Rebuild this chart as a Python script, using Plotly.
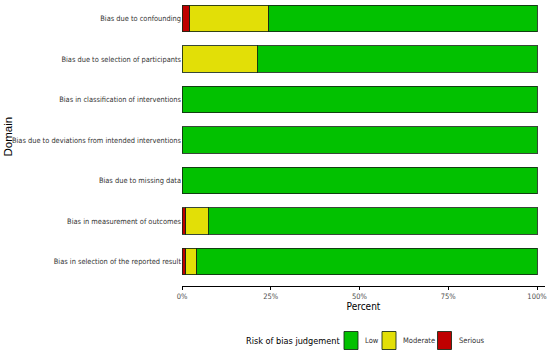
import plotly.graph_objects as go

domains = [
    "Bias due to confounding",
    "Bias due to selection of participants",
    "Bias in classification of interventions",
    "Bias due to deviations from intended interventions",
    "Bias due to missing data",
    "Bias in measurement of outcomes",
    "Bias in selection of the reported result",
]
serious = [2.2, 0, 0, 0, 0, 1.1, 1.1]
moderate = [22.3, 21.2, 0, 0, 0, 6.3, 3.1]
low = [75.5, 78.8, 100, 100, 100, 92.6, 95.8]

x_ticks = [0, 25, 50, 75, 100]
x_tick_labels = ["0%", "25%", "50%", "75%", "100%"]

legend_order = ["Low", "Moderate", "Serious"]
colors = {"Serious": "#BF0000", "Moderate": "#E2DF07", "Low": "#02C100"}

FONT = "DejaVu Sans Condensed"
OUTLINE = "rgba(20,40,20,0.85)"

W, H = 550, 353
ML, MR, MT, MB = 182, 5, 0, 67
PW, PH = W - ML - MR, H - MT - MB


def px(x):
    return (x - ML) / PW


def py(y):
    return 1 - (y - MT) / PH


fig = go.Figure()
for name, vals in [("Serious", serious), ("Moderate", moderate), ("Low", low)]:
    fig.add_trace(go.Bar(
        y=domains, x=vals, name=name, orientation="h", showlegend=False,
        marker=dict(color=colors[name], line=dict(color=OUTLINE, width=1)),
    ))

# legend (drawn as keys + labels, laid out like the ggplot legend)
key_x = {"Low": 344, "Moderate": 382, "Serious": 437.5}
text_x = {"Low": 362.5, "Moderate": 401, "Serious": 456.5}
shapes = []
annotations = [
    dict(text="Risk of bias judgement", x=px(244), y=py(340.5), xref="paper", yref="paper",
         xanchor="left", yanchor="middle", showarrow=False,
         font=dict(family=FONT, size=9.1, color="black")),
    dict(text="Domain", x=px(7.5), y=py(137), xref="paper", yref="paper",
         xanchor="center", yanchor="middle", textangle=-90, showarrow=False,
         font=dict(family="Liberation Sans", size=11.5, color="black")),
]
for name in legend_order:
    shapes.append(dict(type="rect", xref="paper", yref="paper",
                       x0=px(key_x[name]), x1=px(key_x[name] + 14),
                       y0=py(331.5), y1=py(349.5),
                       fillcolor=colors[name], line=dict(color=OUTLINE, width=1)))
    annotations.append(dict(text=name, x=px(text_x[name]), y=py(340.5), xref="paper", yref="paper",
                            xanchor="left", yanchor="middle", showarrow=False,
                            font=dict(family=FONT, size=7.5, color="#333333")))

fig.update_layout(
    width=W, height=H,
    barmode="stack", bargap=0.345,
    plot_bgcolor="white", paper_bgcolor="white",
    margin=dict(l=ML, r=MR, t=MT, b=MB),
    font=dict(family=FONT, size=8, color="#333333"),
    showlegend=False,
    xaxis=dict(
        range=[0, 102.25], tickvals=x_ticks, ticktext=x_tick_labels,
        showgrid=False, zeroline=False, showline=True, linecolor="black", linewidth=1,
        ticks="outside", ticklen=3, tickcolor="black",
        tickfont=dict(family=FONT, size=7.5, color="#4D4D4D"),
        title=dict(text="Percent", font=dict(family=FONT, size=10, color="black"), standoff=2),
        automargin=False,
    ),
    yaxis=dict(
        categoryorder="array", categoryarray=domains,
        range=[6.605, -0.457],
        showgrid=False, zeroline=False, showline=False,
        ticks="", ticklen=0,
        tickfont=dict(family=FONT, size=7.4, color="#333333"),
        automargin=False,
    ),
    shapes=shapes,
    annotations=annotations,
)

fig.write_html("out.html", config={"displayModeBar": False},
               post_script="document.body.style.margin='0';document.body.style.padding='0';")
